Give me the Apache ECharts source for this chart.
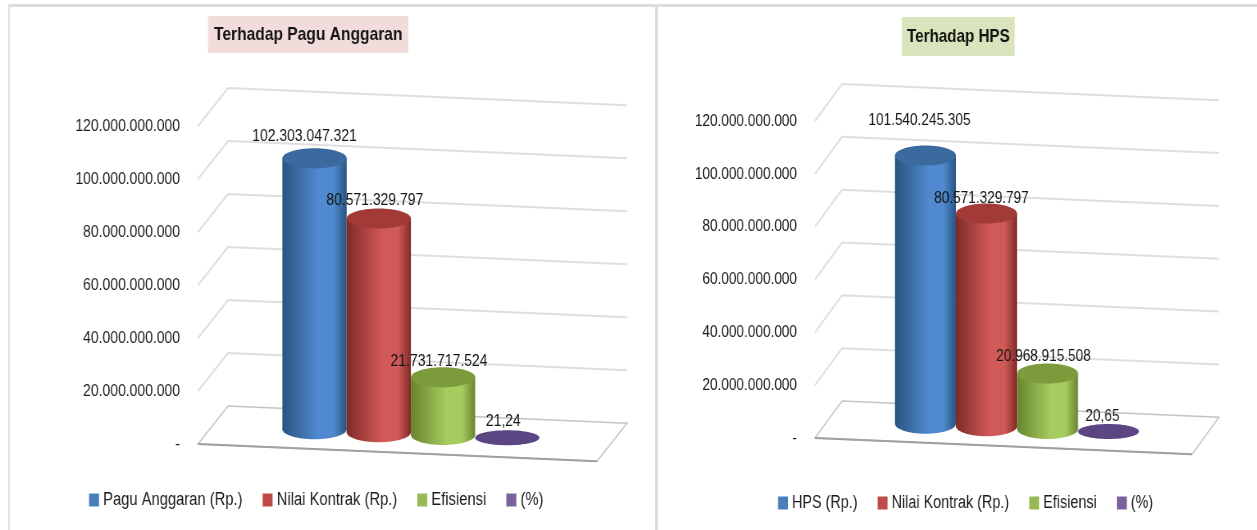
<!DOCTYPE html>
<html>
<head>
<meta charset="utf-8">
<title>Efisiensi</title>
<script src="https://cdn.jsdelivr.net/npm/echarts@6/dist/echarts.min.js"></script>
<style>
  html, body { margin: 0; background: #fff; overflow: hidden; }
  #frame { position: absolute; left: 8px; top: 4px; width: 1249px; height: 526px; box-sizing: border-box;
    border-top: 3px solid #dcdcdc; border-left: 2px solid #e2e2e2; }
  #divider { position: absolute; left: 655px; top: 4px; width: 3px; height: 526px; background: #dcdcdc; }
  .panel { position: absolute; top: 0; height: 530px; transform-origin: 0 0; }
</style>
</head>
<body>
<div id="chartL" class="panel"></div>
<div id="chartR" class="panel"></div>
<div id="frame"></div>
<div id="divider"></div>
<script>
const yTicks = [20000000000, 40000000000, 60000000000, 80000000000, 100000000000, 120000000000];

const leftTitle = 'Terhadap Pagu Anggaran';
const leftNames = ['Pagu Anggaran (Rp.)', 'Nilai Kontrak (Rp.)', 'Efisiensi', '(%)'];
const leftValues = [102303047321, 80571329797, 21731717524, 21.24];

const rightTitle = 'Terhadap HPS';
const rightNames = ['HPS (Rp.)', 'Nilai Kontrak (Rp.)', 'Efisiensi', '(%)'];
const rightValues = [101540245305, 80571329797, 20968915508, 20.65];

const FONT = '"Liberation Sans", sans-serif';
const cylinderColors = [
  { edge: '#28547f', mid: '#5089cf', top: '#3a6a9e', legend: '#4a7ebb' },
  { edge: '#7f2a28', mid: '#d05a57', top: '#a23a38', legend: '#be4b48' },
  { edge: '#67852f', mid: '#a6cb5e', top: '#7c9c3c', legend: '#98b954' },
  { edge: '#5b4583', mid: '#5b4583', top: '#5b4583', legend: '#7d60a0' }
];

function dotted(v) {
  if (v === 0) return '-';
  if (v < 1000) return String(v).replace('.', ',');
  return String(v).replace(/\B(?=(\d{3})+$)/g, '.');
}

function drawPanel(id, title, names, values, layout) {
  // no narrow font installed, so each panel is drawn wider and squeezed with css
  const squeeze = layout.squeeze;
  const sx = v => v / squeeze;
  const dom = document.querySelector(id);
  dom.style.left = layout.left + 'px';
  dom.style.width = sx(layout.width) + 'px';
  dom.style.transform = 'scaleX(' + squeeze + ')';
  const chart = echarts.init(dom);

  // skewed "3D" position: screen point of (x, value) pushed back by depth d (0 front, 1 back)
  function project(api, params, xv, v, d) {
    const p = api.coord([xv, v]);
    return [
      p[0] + sx(layout.depthX) * d,
      p[1] + (p[0] - params.coordSys.x) * squeeze * layout.slope - layout.depthY * d
    ];
  }

  function renderFloor(params, api) {
    const a = project(api, params, layout.xMin, 0, 0);
    const b = project(api, params, layout.xMin, 0, 1);
    const c = project(api, params, layout.xMax, 0, 1);
    const d = project(api, params, layout.xMax, 0, 0);
    return {
      type: 'group',
      children: [
        { type: 'polygon', shape: { points: [a, b, c, d] }, style: { fill: '#fff', stroke: '#c4c4c4', lineWidth: 1.5 } },
        { type: 'line', shape: { x1: a[0], y1: a[1], x2: d[0], y2: d[1] }, style: { stroke: '#a0a0a0', lineWidth: 2 } }
      ]
    };
  }

  function renderWall(params, api) {
    const v = api.value(1);
    const a = project(api, params, layout.xMin, v, 0);
    const b = project(api, params, layout.xMin, v, 1);
    const c = project(api, params, layout.xMax, v, 1);
    return {
      type: 'polyline',
      shape: { points: [a, b, c] },
      style: { fill: null, stroke: '#dedede', lineWidth: 2 }
    };
  }

  function renderCylinder(colors, shift) {
    return function (params, api) {
      const rx = api.size([1, 0])[0] / 2;
      const ry = layout.ry;
      const i = api.value(0);
      const v = api.value(1);
      const base = project(api, params, i, 0, 0.5);
      const top = project(api, params, i, v, 0.5);
      const fill = new echarts.graphic.LinearGradient(0, 0, 1, 0, [
        { offset: 0, color: colors.edge },
        { offset: 0.55, color: colors.mid },
        { offset: 0.8, color: colors.mid },
        { offset: 1, color: colors.edge }
      ]);
      const children = [];
      if (base[1] - top[1] > 1) {
        children.push(
          { type: 'ellipse', shape: { cx: base[0], cy: base[1], rx, ry }, style: { fill } },
          { type: 'rect', shape: { x: base[0] - rx, y: top[1], width: rx * 2, height: base[1] - top[1] }, style: { fill } }
        );
      }
      children.push(
        { type: 'ellipse', shape: { cx: top[0], cy: top[1], rx, ry: v < 1000 ? ry * 0.75 : ry }, style: { fill: colors.top } },
        {
          type: 'text',
          style: {
            text: dotted(v),
            x: top[0] + sx(shift[0]),
            y: top[1] + shift[1],
            align: 'center',
            verticalAlign: 'middle',
            fill: '#141414',
            font: '17px ' + FONT
          }
        }
      );
      return { type: 'group', children };
    };
  }

  const series = [
    {
      type: 'custom',
      silent: true,
      renderItem: renderFloor,
      data: [[layout.xMin, 0]],
      z: 1
    },
    {
      type: 'custom',
      silent: true,
      renderItem: renderWall,
      data: yTicks.map(v => [layout.xMin, v]),
      z: 1
    }
  ];
  names.forEach((name, i) => {
    series.push({
      type: 'custom',
      name,
      silent: true,
      itemStyle: { color: cylinderColors[i].legend },
      renderItem: renderCylinder(cylinderColors[i], layout.labelShift[i]),
      data: [[i, values[i]]],
      z: 2 + i
    });
  });

  const option = {
    animation: false,
    title: {
      text: title,
      left: sx(layout.titleLeft),
      top: layout.titleTop,
      padding: [layout.titlePad, sx(layout.titleSide)],
      backgroundColor: layout.titleBg,
      textStyle: { fontFamily: FONT, fontSize: 19, fontWeight: 'bold', color: '#141414' }
    },
    legend: {
      data: names,
      left: sx(layout.legendLeft),
      top: layout.legendTop,
      padding: 0,
      icon: 'rect',
      itemWidth: sx(10),
      itemHeight: 13,
      itemGap: sx(20),
      selectedMode: false,
      textStyle: { fontFamily: FONT, fontSize: 18, color: '#1c1c1c' }
    },
    grid: {
      left: sx(layout.gridLeft),
      top: layout.gridTop,
      width: sx(layout.gridWidth),
      height: layout.gridHeight
    },
    xAxis: { type: 'value', min: layout.xMin, max: layout.xMax, show: false },
    yAxis: {
      type: 'value',
      min: 0,
      max: 120000000000,
      interval: 20000000000,
      axisLine: { show: false },
      axisTick: { show: false },
      splitLine: { show: false },
      axisLabel: {
        margin: sx(18),
        fontFamily: FONT,
        fontSize: 17,
        color: '#1c1c1c',
        formatter: dotted
      }
    },
    series
  };
  chart.setOption(option);
}

// *chartL Terhadap Pagu Anggaran
drawPanel('#chartL', leftTitle, leftNames, leftValues, {
  left: 0, width: 656, squeeze: 0.82,
  gridLeft: 198, gridTop: 126, gridWidth: 399, gridHeight: 318,
  xMin: -1.58, xMax: 4.63,
  depthX: 30, depthY: 38, slope: 0.043, ry: 10,
  labelShift: [[-10, -22], [-4, -18], [-4, -16], [-4, -16]],
  titleLeft: 208, titleTop: 16, titlePad: 9, titleSide: 6, titleBg: '#f2dcdb',
  legendLeft: 89, legendTop: 491
});

// *chartR Terhadap HPS
drawPanel('#chartR', rightTitle, rightNames, rightValues, {
  left: 656, width: 601, squeeze: 0.8,
  gridLeft: 159, gridTop: 121, gridWidth: 377, gridHeight: 317,
  xMin: -1.59, xMax: 4.59,
  depthX: 27, depthY: 37, slope: 0.043, ry: 10,
  labelShift: [[-6, -35], [-5, -15], [-4, -17], [-6, -15]],
  titleLeft: 246, titleTop: 17, titlePad: 10, titleSide: 5, titleBg: '#d8e4bc',
  legendLeft: 122, legendTop: 494
});
</script>
</body>
</html>
